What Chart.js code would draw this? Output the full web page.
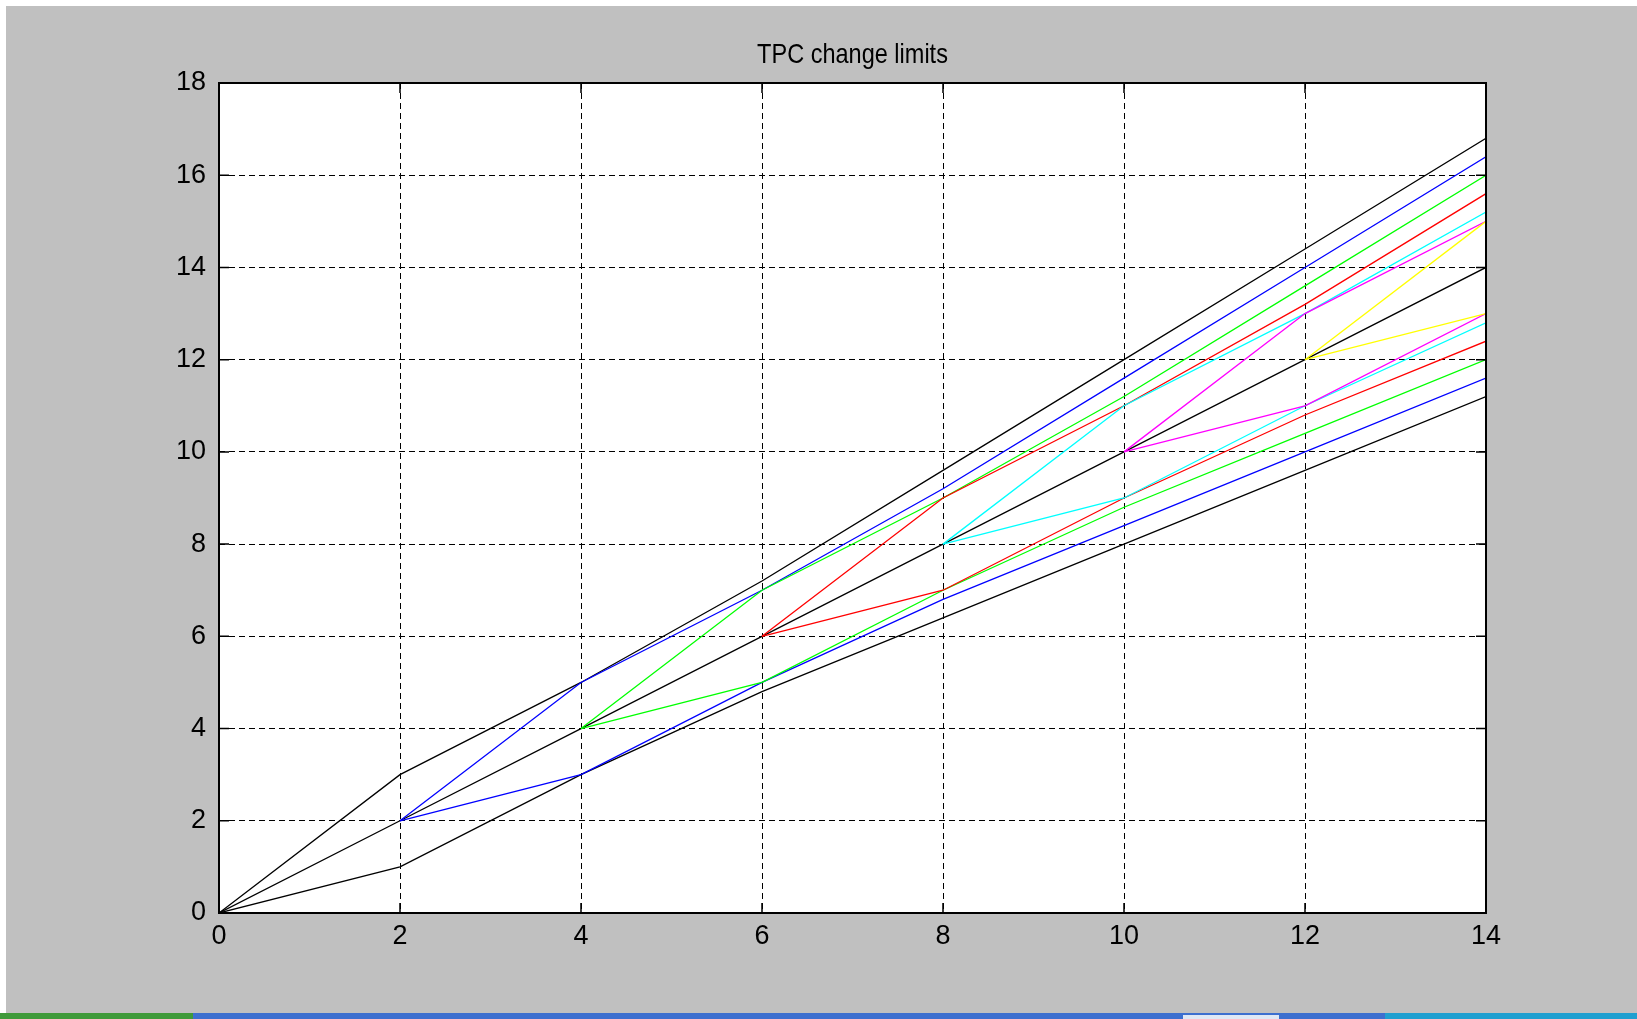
<!DOCTYPE html>
<html>
<head>
<meta charset="utf-8">
<title>TPC change limits</title>
<script src="https://cdn.jsdelivr.net/npm/chart.js@4.4.0/dist/chart.umd.min.js"></script>
<style>
  body { margin: 0; background: #ffffff; width: 1637px; height: 1019px; overflow: hidden; position: relative; }
  #fig { position: absolute; left: 6px; top: 6px; width: 1631px; height: 1007px; background: #c0c0c0; }
  #cv { position: absolute; left: 0; top: 0; }
  .bar { position: absolute; top: 1013px; height: 6px; }
</style>
</head>
<body>
<div id="fig"></div>
<canvas id="cv" width="1637" height="1019"></canvas>
<div class="bar" style="left:0;width:193px;background:#3f9a3a"></div>
<div class="bar" style="left:193px;width:1192px;background:#3d6fcf"></div>
<div class="bar" style="left:1183px;width:96px;background:#dfe8f5;top:1015px;height:4px"></div>
<div class="bar" style="left:1385px;width:252px;background:#1f9fd0"></div>
<script>
// tpc steps (x axis)
var stepX = [0, 2, 4, 6, 8, 10, 12, 14];

// black limit curves
var upperLimit = [0, 3, 5, 7.2, 9.6, 12, 14.4, 16.8];
var nominal    = [0, 2, 4, 6, 8, 10, 12, 14];
var lowerLimit = [0, 1, 3, 4.8, 6.4, 8, 9.6, 11.2];

// fans, each one ends at x=14
var blueUp      = [2, 5, 7, 9.2, 11.6, 14, 16.4];
var blueDown    = [2, 3, 5, 6.8, 8.4, 10, 11.6];
var greenUp     = [4, 7, 9, 11.2, 13.6, 16];
var greenDown   = [4, 5, 7, 8.8, 10.4, 12];
var redUp       = [6, 9, 11, 13.2, 15.6];
var redDown     = [6, 7, 9, 10.8, 12.4];
var cyanUp      = [8, 11, 13, 15.2];
var cyanDown    = [8, 9, 11, 12.8];
var magentaUp   = [10, 13, 15];
var magentaDown = [10, 11, 13];
var yellowUp    = [12, 15];
var yellowDown  = [12, 13];

var xTicks = [0, 2, 4, 6, 8, 10, 12, 14];
var yTicks = [0, 2, 4, 6, 8, 10, 12, 14, 16, 18];

var FONT = '"Liberation Sans Narrow", "Liberation Sans", Arial, sans-serif';

function pts(vals) {
	var xs = stepX.slice(stepX.length - vals.length);
	var out = [];
	for (var i = 0; i < vals.length; i++) {
		out.push({x: xs[i], y: vals[i]});
	}
	return out;
}

var series = [
	[upperLimit, "#000000"],
	[nominal, "#000000"],
	[lowerLimit, "#000000"],
	[blueUp, "#0000ff"], [blueDown, "#0000ff"],
	[greenUp, "#00ff00"], [greenDown, "#00ff00"],
	[redUp, "#ff0000"], [redDown, "#ff0000"],
	[cyanUp, "#00ffff"], [cyanDown, "#00ffff"],
	[magentaUp, "#ff00ff"], [magentaDown, "#ff00ff"],
	[yellowUp, "#ffff00"], [yellowDown, "#ffff00"]
];

var datasets = [];
for (var i = 0; i < series.length; i++) {
	datasets.push({
		data: pts(series[i][0]),
		borderColor: series[i][1],
		borderWidth: 1.3,
		pointRadius: 0,
		tension: 0,
		fill: false,
		order: -i
	});
}

// white axes background, box, inner ticks and title like matlab
var matlabAxes = {
	id: 'matlabAxes',
	beforeDraw: function(chart) {
		var a = chart.chartArea, c = chart.ctx;
		c.save();
		c.fillStyle = '#ffffff';
		c.fillRect(a.left, a.top, a.right - a.left, a.bottom - a.top);
		c.restore();
	},
	afterDraw: function(chart) {
		var a = chart.chartArea, c = chart.ctx;
		var xs = chart.scales.x, ys = chart.scales.y;
		var len = 10;
		c.save();
		c.strokeStyle = '#000';
		c.lineWidth = 1.5;
		c.beginPath();
		xs.ticks.forEach(function(t) {
			var px = xs.getPixelForValue(t.value);
			c.moveTo(px, a.bottom); c.lineTo(px, a.bottom - len);
			c.moveTo(px, a.top); c.lineTo(px, a.top + len);
		});
		ys.ticks.forEach(function(t) {
			var py = ys.getPixelForValue(t.value);
			c.moveTo(a.left, py); c.lineTo(a.left + len, py);
			c.moveTo(a.right, py); c.lineTo(a.right - len, py);
		});
		c.stroke();
		c.lineWidth = 2;
		c.strokeRect(a.left, a.top, a.right - a.left, a.bottom - a.top);
		// title, squeezed a bit (matlab font is narrow)
		c.fillStyle = '#000';
		c.font = '28px ' + FONT;
		c.textAlign = 'center';
		c.textBaseline = 'middle';
		c.translate((a.left + a.right) / 2, 55);
		c.scale(0.84, 1);
		c.fillText('TPC change limits', 0, 0);
		c.restore();
	}
};

new Chart(document.getElementById("cv"), {
	type: 'line',
	data: { datasets: datasets },
	options: {
		responsive: false,
		animation: false,
		layout: { padding: { top: 83, right: 151, left: 0, bottom: 0 } },
		plugins: {
			legend: { display: false },
			tooltip: { enabled: false }
		},
		scales: {
			x: {
				type: 'linear',
				min: 0,
				max: 14,
				afterFit: function(s) { s.height = 106; },
				afterBuildTicks: function(s) { s.ticks = xTicks.map(function(v) { return {value: v}; }); },
				ticks: { color: '#000', font: { size: 27, family: FONT }, padding: 7, maxRotation: 0 },
				grid: { color: '#000', lineWidth: 1, drawTicks: false },
				border: { display: false, dash: [6, 4] }
			},
			y: {
				type: 'linear',
				min: 0,
				max: 18,
				afterFit: function(s) { s.width = 219; },
				afterBuildTicks: function(s) { s.ticks = yTicks.map(function(v) { return {value: v}; }); },
				ticks: { color: '#000', font: { size: 27, family: FONT }, padding: 13 },
				grid: { color: '#000', lineWidth: 1, drawTicks: false },
				border: { display: false, dash: [6, 4] }
			}
		}
	},
	plugins: [matlabAxes]
});
</script>
</body>
</html>
